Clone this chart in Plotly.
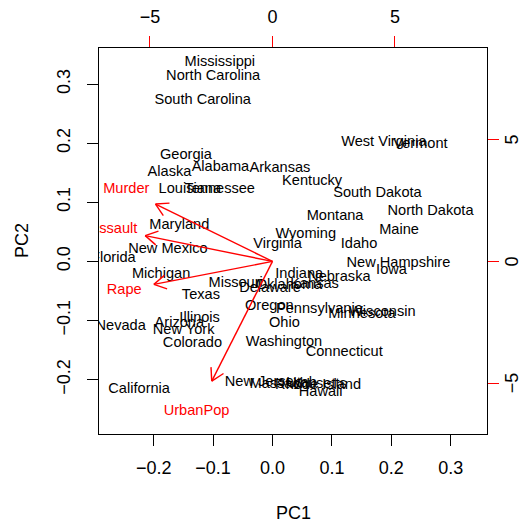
import math
import plotly.graph_objects as go

# ---- data (PCA of USArrests, scaled scores as plotted) ----
states = ["Alabama", "Alaska", "Arizona", "Arkansas", "California", "Colorado",
          "Connecticut", "Delaware", "Florida", "Georgia", "Hawaii", "Idaho",
          "Illinois", "Indiana", "Iowa", "Kansas", "Kentucky", "Louisiana",
          "Maine", "Maryland", "Massachusetts", "Michigan", "Minnesota",
          "Mississippi", "Missouri", "Montana", "Nebraska", "Nevada",
          "New Hampshire", "New Jersey", "New Mexico", "New York",
          "North Carolina", "North Dakota", "Ohio", "Oklahoma", "Oregon",
          "Pennsylvania", "Rhode Island", "South Carolina", "South Dakota",
          "Tennessee", "Texas", "Utah", "Vermont", "Virginia", "Washington",
          "West Virginia", "Wisconsin", "Wyoming"]
pc1 = [-0.08761, -0.17336, -0.15674, 0.01257, -0.22437, -0.13464,
       0.12078, -0.00424, -0.26780, -0.14573, 0.08113, 0.14577,
       -0.12258, 0.04494, 0.20034, 0.07084, 0.06674, -0.13911,
       0.21307, -0.15676, 0.04319, -0.18744, 0.15047,
       -0.08859, -0.06194, 0.10537, 0.11251, -0.25552,
       0.21192, -0.01614, -0.17602, -0.14958,
       -0.09986, 0.26600, 0.02009, 0.02773, -0.00526,
       0.07898, 0.07679, -0.11741, 0.17670,
       -0.08887, -0.12047, 0.04894, 0.24903, 0.00856, 0.01928,
       0.18745, 0.18488, 0.05595]
pc2 = [0.15950, 0.15103, -0.10497, 0.15758, -0.21713, -0.13897,
       -0.15324, -0.04579, 0.00552, 0.17998, -0.22100, 0.02969,
       -0.09596, -0.02132, -0.01464, -0.03802, 0.13487, 0.12258,
       0.05297, 0.06018, -0.20750, -0.02187, -0.08897,
       0.33686, -0.03707, 0.07590, -0.02731, -0.10914,
       -0.00254, -0.20389, 0.02009, -0.11584,
       0.31372, 0.08435, -0.10439, -0.04051, -0.07615,
       -0.08037, -0.20995, 0.27207, 0.11587,
       0.12106, -0.05803, -0.20700, 0.19733, 0.02810, -0.13652,
       0.20099, -0.08600, 0.04517]

variables = ["Murder", "Assault", "UrbanPop", "Rape"]
load1 = [-5.96781, -6.49437, -3.09796, -6.05169]
load2 = [2.94182, 1.32244, -6.14001, -1.17705]

pc_tickvals = [-0.2, -0.1, 0.0, 0.1, 0.2, 0.3]
pc_ticktext = ["\u22120.2", "\u22120.1", "0.0", "0.1", "0.2", "0.3"]
load_tickvals = [-5, 0, 5]
load_ticktext = ["\u22125", "0", "5"]

# ---- biplot limits (as in R's biplot.default) ----
def urange(v):
    return (-abs(min(v)), abs(max(v)))

rx1, rx2 = urange(pc1), urange(pc2)
lim = (min(rx1[0], rx2[0]), max(rx1[1], rx2[1]))
ry1, ry2 = urange(load1), urange(load2)
rlim = (min(ry1[0], ry2[0]), max(ry1[1], ry2[1]))
ratio = max(rlim[0] / lim[0], rlim[1] / lim[1])
ext = 0.04 * (lim[1] - lim[0])
plim = [lim[0] - ext, lim[1] + ext]
alim = [plim[0] * ratio, plim[1] * ratio]

# page body has an 8px margin in the browser; keep the figure inside the window
W, H = 519, 516
ML, MT = 91, 40
pw, ph = 388, 386
MR, MB = W - ML - pw, H - MT - ph
sx = pw / (alim[1] - alim[0])
sy = ph / (alim[1] - alim[0])

FONT = "Liberation Sans, Arial, Helvetica, sans-serif"
RED = "#FF0000"

fig = go.Figure()

fig.add_trace(go.Scatter(
    x=pc1, y=pc2, text=states, mode="text",
    textposition="middle center",
    textfont=dict(family=FONT, size=14.6, color="black"),
    cliponaxis=True, hoverinfo="skip", showlegend=False))

# arrows (0.8 * loadings), with open heads
head_len = 14.0
for v, a, b in zip(variables, load1, load2):
    tx, ty = 0.8 * a, 0.8 * b
    ang = math.atan2(ty * sy, tx * sx)
    xs = [0, tx, None]
    ys = [0, ty, None]
    for d in (math.radians(30), -math.radians(30)):
        back = ang + math.pi + d
        hx = tx + head_len * math.cos(back) / sx
        hy = ty + head_len * math.sin(back) / sy
        xs += [tx, hx, None]
        ys += [ty, hy, None]
    fig.add_trace(go.Scatter(
        x=xs, y=ys, mode="lines", xaxis="x2", yaxis="y2",
        line=dict(color=RED, width=1.4), hoverinfo="skip",
        showlegend=False, cliponaxis=True))

fig.add_trace(go.Scatter(
    x=load1, y=load2, text=variables, mode="text", xaxis="x2", yaxis="y2",
    textposition="middle center",
    textfont=dict(family=FONT, size=14.6, color=RED),
    cliponaxis=True, hoverinfo="skip", showlegend=False))

axis_common = dict(showgrid=False, zeroline=False, ticks="outside",
                   ticklen=11, tickwidth=1.4,
                   tickfont=dict(family=FONT, size=18, color="black"))

annotations = [
    dict(text="PC1", xref="paper", yref="paper", x=0.5, y=0,
         yshift=-79, showarrow=False, xanchor="center", yanchor="middle",
         font=dict(family=FONT, size=18, color="black")),
    dict(text="PC2", xref="paper", yref="paper", x=0, y=0.5,
         xshift=-77, showarrow=False, xanchor="center", yanchor="middle",
         textangle=-90, font=dict(family=FONT, size=18, color="black")),
]
# right-axis tick labels
for val, txt in zip(load_tickvals, load_ticktext):
    annotations.append(dict(
        text=txt, xref="paper", yref="y2", x=1, y=val, xshift=25,
        showarrow=False, xanchor="center", yanchor="middle", textangle=-90,
        font=dict(family=FONT, size=18, color="black")))

fig.update_layout(
    width=W, height=H,
    margin=dict(l=ML, r=MR, t=MT, b=MB, autoexpand=False),
    paper_bgcolor="white", plot_bgcolor="white",
    font=dict(family=FONT, color="black"),
    xaxis=dict(range=plim, tickvals=pc_tickvals, ticktext=pc_ticktext,
               tickcolor="black", showline=True, linecolor="black",
               linewidth=1.4, mirror=True, ticklabelstandoff=6,
               **axis_common),
    yaxis=dict(range=plim, tickvals=pc_tickvals, ticktext=pc_ticktext,
               tickcolor="black", showline=True, linecolor="black",
               linewidth=1.4, mirror=True, tickangle=-90,
               ticklabelstandoff=10, **axis_common),
    xaxis2=dict(range=alim, overlaying="x", side="top", anchor="y",
                tickvals=load_tickvals, ticktext=load_ticktext,
                tickcolor=RED, showline=False, ticklabelstandoff=6,
                **axis_common),
    yaxis2=dict(range=alim, overlaying="y", side="right", anchor="x",
                tickvals=load_tickvals, showticklabels=False,
                tickcolor=RED, showline=False, **axis_common),
    annotations=annotations,
)

fig.write_html("out.html")
